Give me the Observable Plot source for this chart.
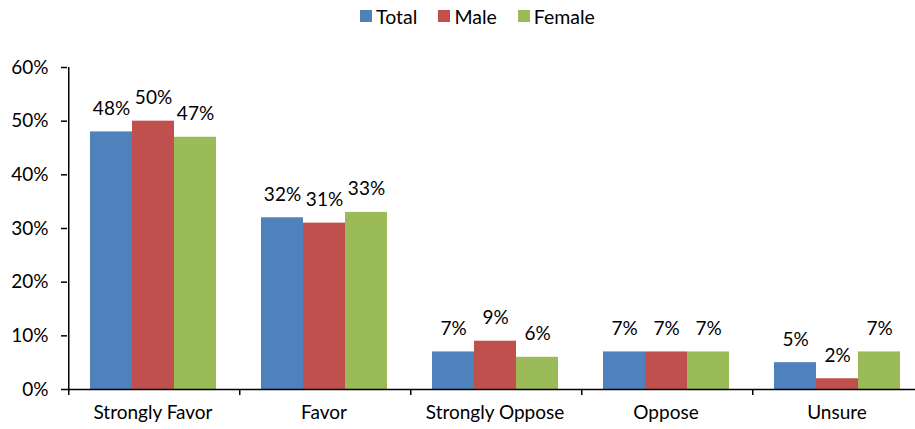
<!DOCTYPE html>
<html>
<head>
<meta charset="utf-8">
<script src="https://cdn.jsdelivr.net/npm/d3@7"></script>
<script src="https://cdn.jsdelivr.net/npm/@observablehq/plot@0.6"></script>
<style>
  body { margin: 0; background: #fff; font-family: Lato, "Open Sans", sans-serif; }
  #legend { height: 32px; display: flex; justify-content: center; align-items: center; gap: 21px; padding-left: 40px; font-size: 19.5px; color: #000; }
  #legend span.item { display: inline-flex; align-items: center; gap: 4px; }
  #legend span.sw { display: inline-block; width: 12px; height: 12px; }
  svg { display: block; overflow: hidden; }
</style>
</head>
<body>
<div id="legend"></div>
<div id="chart"></div>
<script>
const categories = ["Strongly Favor", "Favor", "Strongly Oppose", "Oppose", "Unsure"];
const series = ["Total", "Male", "Female"];
const totalValues = [48, 32, 7, 7, 5];
const maleValues = [50, 31, 9, 7, 2];
const femaleValues = [47, 33, 6, 7, 7];
const colors = ["#4F81BD", "#C0504D", "#9BBB59"];
const yTicks = [0, 10, 20, 30, 40, 50, 60];

const seriesValues = [totalValues, maleValues, femaleValues];
const data = [];
categories.forEach((c, i) => {
  series.forEach((s, j) => data.push({category: c, series: s, value: seriesValues[j][i]}));
});

const legend = document.getElementById("legend");
series.forEach((s, j) => {
  const item = document.createElement("span");
  item.className = "item";
  const sw = document.createElement("span");
  sw.className = "sw";
  sw.style.background = colors[j];
  item.appendChild(sw);
  item.appendChild(document.createTextNode(s));
  legend.appendChild(item);
});

const W = 915, ML = 67, MR = -7;
const step = (W - ML - MR) / categories.length / (series.length + 1);
const fs = 19;

const chart = Plot.plot({
  width: W,
  height: 397,
  marginLeft: ML,
  marginRight: MR,
  marginTop: 35,
  marginBottom: 40,
  style: {fontFamily: "Lato, 'Open Sans', sans-serif", color: "#000", background: "#fff", fontSize: fs + "px"},
  fx: {domain: categories, padding: 0, label: null},
  x: {domain: series, paddingInner: 0, paddingOuter: 0.5, axis: null},
  y: {domain: [0, 60], label: null},
  color: {domain: series, range: colors},
  marks: [
    Plot.barY(data, {fx: "category", x: "series", y: "value", fill: "series"}),
    Plot.text(data, {fx: "category", x: "series", y: "value", text: d => d.value + "%", dy: -17, lineAnchor: "bottom", fontSize: fs, fill: "#000"}),
    Plot.ruleY([0], {stroke: "#000", strokeWidth: 1.5}),
    Plot.ruleX(categories, {fx: d => d, x: () => series[0], y1: 0, y2: 0, insetBottom: -6, dx: -step, stroke: "#000", strokeWidth: 1.5}),
    Plot.ruleX([categories[0]], {fx: d => d, x: () => series[0], y1: 60, y2: 0, dx: -step, stroke: "#000", strokeWidth: 1.5}),
    Plot.axisY({ticks: yTicks, tickFormat: d => d + "%", tickSize: 6, tickPadding: 13, fontSize: fs, label: null, stroke: "#000", strokeWidth: 1.5}),
    Plot.axisFx({anchor: "bottom", tickSize: 0, tickPadding: 16, fontSize: fs, label: null})
  ]
});
document.getElementById("chart").appendChild(chart);
</script>
</body>
</html>
